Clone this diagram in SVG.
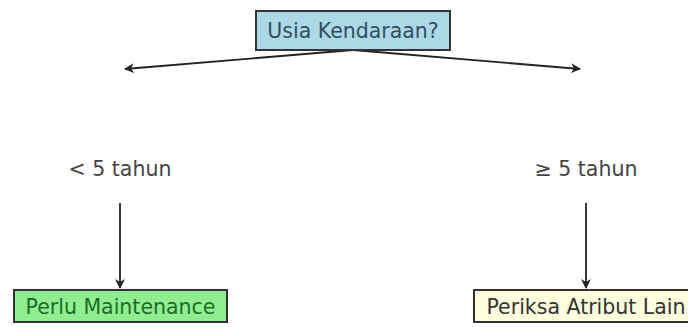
<svg xmlns="http://www.w3.org/2000/svg" width="688" height="327" viewBox="0 0 688 327">
<defs>
<style>
text{font-family:"DejaVu Sans",sans-serif;font-size:20.5px;text-anchor:middle}
.box{stroke:#333;stroke-width:2}
.edge{stroke:#222;stroke-width:1.8;fill:none}
.lbl{fill:#444}
</style>
<marker id="ah" viewBox="0 0 10 10" refX="9" refY="5" markerWidth="10" markerHeight="10" markerUnits="userSpaceOnUse" orient="auto">
<path d="M0,0 L10,5 L0,10 L3,5 Z" fill="#222"/>
</marker>
</defs>
<rect width="688" height="327" fill="#fff"/>
<g id="connectors">
<path class="edge" d="M353,50 L125,69" marker-end="url(#ah)"/>
<path class="edge" d="M353,50 L580,69" marker-end="url(#ah)"/>
<path class="edge" d="M120,203 L120,288" marker-end="url(#ah)"/>
<path class="edge" d="M586,203 L586,288" marker-end="url(#ah)"/>
</g>
<g id="root">
<rect class="box" x="256" y="11" width="194" height="39" fill="#add8e6"/>
<text x="353" y="38" fill="#2f4f5f">Usia Kendaraan?</text>
</g>
<g id="label-left">
<text class="lbl" x="120" y="176">&lt; 5 tahun</text>
</g>
<g id="label-right">
<text class="lbl" x="586" y="176">≥ 5 tahun</text>
</g>
<g id="leaf-left">
<rect class="box" x="14" y="290" width="213" height="32" fill="#90ee90"/>
<text x="120.5" y="314" fill="#1f6b2a">Perlu Maintenance</text>
</g>
<g id="leaf-right">
<rect class="box" x="474" y="290" width="224" height="32" fill="#ffffe0"/>
<text x="586" y="314" fill="#333">Periksa Atribut Lain</text>
</g>
</svg>
